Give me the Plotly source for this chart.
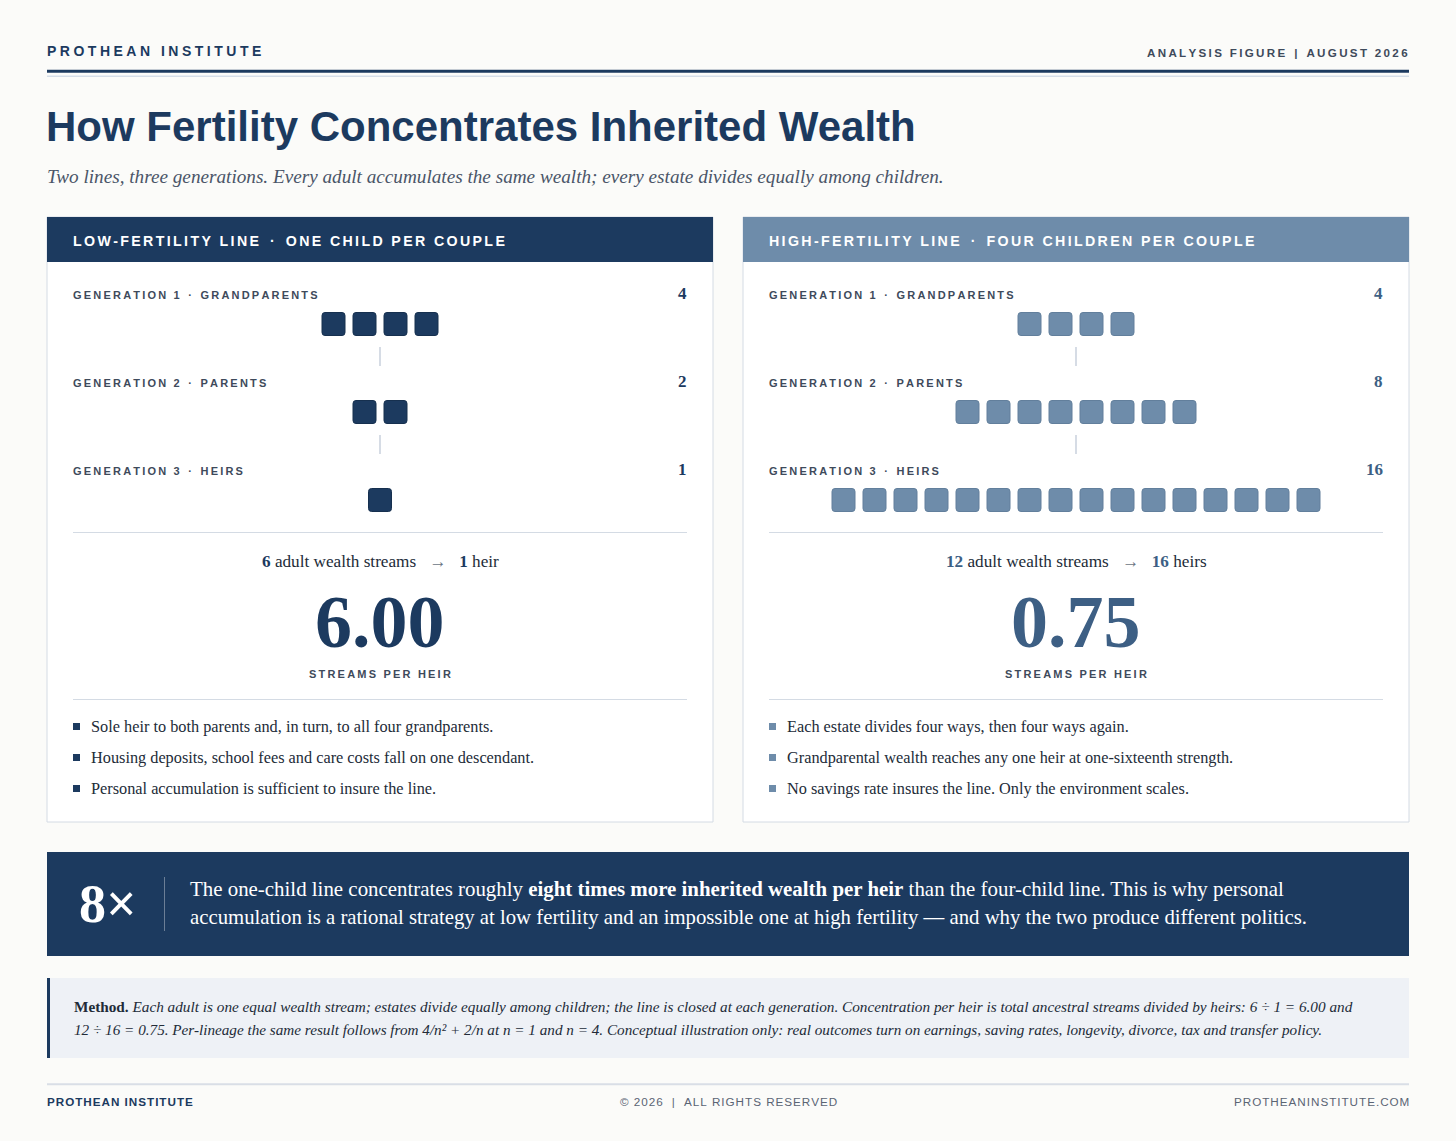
import plotly.graph_objects as go

W, H = 1456, 1141

# ---- data -------------------------------------------------------------
generation_names = ["GRANDPARENTS", "PARENTS", "HEIRS"]
low_counts = [4, 2, 1]
high_counts = [4, 8, 16]
adult_streams = [6, 12]
heirs = [1, 16]
streams_per_heir = ["6.00", "0.75"]
panel_titles = [("LOW-FERTILITY LINE", "ONE CHILD PER COUPLE"),
                ("HIGH-FERTILITY LINE", "FOUR CHILDREN PER COUPLE")]
low_bullets = ["Sole heir to both parents and, in turn, to all four grandparents.",
               "Housing deposits, school fees and care costs fall on one descendant.",
               "Personal accumulation is sufficient to insure the line."]
high_bullets = ["Each estate divides four ways, then four ways again.",
                "Grandparental wealth reaches any one heir at one-sixteenth strength.",
                "No savings rate insures the line. Only the environment scales."]
ratio_label = "8×"

# ---- style ------------------------------------------------------------
NAVY = "#1c3a5f"
STEEL = "#6e8caa"
STEEL_DK = "#3d5f84"
INK = "#222b38"
GREY = "#3e4a5b"
RULE = "#d4dbe4"
BG = "#fbfbf9"

SANS = "Liberation Sans, Arial, sans-serif"
SERIF = "Liberation Serif, Times New Roman, serif"

NB = "\u00a0"
EN = "\u2002"


def track(s, sep="\u2009"):
    # fake letter spacing with thin spaces
    return sep.join(s)


annotations = []
shapes = []


def txt(x, y, s, size, color, family=SANS, anchor="left", weight="normal", style="normal"):
    annotations.append(dict(x=x, y=y, xref="x", yref="y", text=s, showarrow=False,
                            xanchor=anchor, yanchor="middle", borderpad=0, borderwidth=0,
                            font=dict(family=family, size=size, color=color,
                                      weight=weight, style=style)))


def rect(x0, y0, x1, y1, fill, line=None, lw=0):
    shapes.append(dict(type="rect", xref="x", yref="y", x0=x0, y0=y0, x1=x1, y1=y1,
                       fillcolor=fill, line=dict(color=line or fill, width=lw),
                       layer="below"))


def hline(x0, x1, y, color, width=1):
    shapes.append(dict(type="line", xref="x", yref="y", x0=x0, x1=x1, y0=y, y1=y,
                       line=dict(color=color, width=width)))


def vline(x, y0, y1, color, width=1):
    shapes.append(dict(type="line", xref="x", yref="y", x0=x, x1=x, y0=y0, y1=y1,
                       line=dict(color=color, width=width)))


def rrect(xc, yc, half, r, fill, edge):
    x0, x1, y0, y1 = xc - half, xc + half, yc - half, yc + half
    p = (f"M{x0+r},{y0} L{x1-r},{y0} Q{x1},{y0} {x1},{y0+r} L{x1},{y1-r} "
         f"Q{x1},{y1} {x1-r},{y1} L{x0+r},{y1} Q{x0},{y1} {x0},{y1-r} "
         f"L{x0},{y0+r} Q{x0},{y0} {x0+r},{y0} Z")
    shapes.append(dict(type="path", xref="x", yref="y", path=p, fillcolor=fill,
                       line=dict(color=edge, width=1)))


# ---- masthead ---------------------------------------------------------
txt(47, 51, track("PROTHEAN INSTITUTE", "\u2005"), 14, NAVY, weight="bold")
txt(1408, 52, track("ANALYSIS FIGURE") + EN + NB + "|" + NB + EN + track("AUGUST 2026"),
    11.6, GREY, anchor="right", weight="bold")
hline(47, 1409, 71.3, NAVY, 3)
hline(47, 1409, 76.2, "#c3cfe0", 1)

txt(46, 126, "How Fertility Concentrates Inherited Wealth", 42, NAVY, weight="bold")
txt(47, 176, "Two lines, three generations. Every adult accumulates the same wealth; "
             "every estate divides equally among children.", 19.2, "#4a5568",
    family=SERIF, style="italic")

# ---- panels -----------------------------------------------------------
panel_x = [47, 743]
PW = 666
panel_counts = [low_counts, high_counts]
panel_bullets = [low_bullets, high_bullets]
head_fill = [NAVY, STEEL]
sq_fill = [NAVY, STEEL]
sq_edge = ["#16304f", "#627f9c"]
num_col = [NAVY, STEEL_DK]

for p in range(2):
    x0 = panel_x[p]
    cx = x0 + PW / 2
    xl, xr = x0 + 26, x0 + 640
    rect(x0, 217, x0 + PW, 822, "#ffffff", RULE, 1)
    rect(x0, 217, x0 + PW, 262, head_fill[p])
    t1, t2 = panel_titles[p]
    txt(xl, 241, track(t1, "\u2006") + EN + NB + "·" + NB + EN + track(t2, "\u2006"),
        14.2, "#ffffff", weight="bold")

    counts = panel_counts[p]
    for g, name in enumerate(generation_names):
        ly = 295 + 88 * g
        txt(xl, ly, track(f"GENERATION {g + 1}") + NB + EN + "·" + EN + NB + track(name),
            11, GREY, weight="bold")
        txt(xr, ly - 2, str(counts[g]), 17, num_col[p], family=SERIF, anchor="right", weight="bold")
        yc = 324 + 88 * g
        n = counts[g]
        for i in range(n):
            rrect(cx + (i - (n - 1) / 2) * 31, yc, 11.5, 3, sq_fill[p], sq_edge[p])
        if g < 2:
            vline(cx, yc + 23, yc + 42, "#c9d1dc", 1.5)

    hline(xl, xr, 532.5, RULE, 1)
    s_heir = "heir" if heirs[p] == 1 else "heirs"
    stream_txt = (f"<span style='color:{num_col[p]}'><b>{adult_streams[p]}</b></span>"
                  f" adult wealth streams{NB}{EN}<span style='color:#6b7484'>→</span>{EN}{NB}"
                  f"<span style='color:{num_col[p]}'><b>{heirs[p]}</b></span> {s_heir}")
    txt(cx, 561, stream_txt, 17.2, INK, family=SERIF, anchor="center")
    txt(cx, 622, streams_per_heir[p], 74, num_col[p], family=SERIF, anchor="center", weight="bold")
    txt(cx, 673.5, track("STREAMS PER HEIR"), 11, GREY, anchor="center", weight="bold")
    hline(xl, xr, 699.5, RULE, 1)

    for k, b in enumerate(panel_bullets[p]):
        by = 726.5 + 31 * k
        rect(xl, by - 3.5, xl + 7, by + 3.5, sq_fill[p])
        txt(xl + 18, by, b, 16.3, INK, family=SERIF)

# ---- callout ----------------------------------------------------------
rect(47, 852, 1409, 956, NAVY)
txt(79, 904, ratio_label, 54, "#ffffff", family=SERIF, weight="bold")
vline(164.5, 877, 931, "rgba(255,255,255,0.35)", 1)
txt(190, 888.5, "The one-child line concentrates roughly <b>eight times more inherited wealth "
                "per heir</b> than the four-child line. This is why personal",
    20.9, "#ffffff", family=SERIF)
txt(190, 917.5, "accumulation is a rational strategy at low fertility and an impossible one at "
                "high fertility — and why the two produce different politics.",
    20.75, "#ffffff", family=SERIF)

# ---- method note ------------------------------------------------------
rect(47, 978, 1409, 1058, "#eef1f6")
rect(47, 978, 50, 1058, NAVY)
txt(74, 1006, "<b>Method.</b> <i>Each adult is one equal wealth stream; estates divide equally "
              "among children; the line is closed at each generation. Concentration per heir "
              "is total ancestral streams divided by heirs: 6 ÷ 1 = 6.00 and</i>",
    15.25, INK, family=SERIF)
txt(74, 1029.5, "<i>12 ÷ 16 = 0.75. Per-lineage the same result follows from 4/n² + 2/n at "
                "n = 1 and n = 4. Conceptual illustration only: real outcomes turn on earnings, "
                "saving rates, longevity, divorce, tax and transfer policy.</i>",
    15.2, INK, family=SERIF)

# ---- footer -----------------------------------------------------------
hline(47, 1409, 1084.3, "#d9dee6", 2)
txt(47, 1101, track("PROTHEAN INSTITUTE", "\u200a"), 11.7, NAVY, weight="bold")
txt(728, 1101, track("© 2026", "\u200a") + NB + EN + "|" + EN + NB + track("ALL RIGHTS RESERVED", "\u200a"),
    11.7, "#5a6474", anchor="center")
txt(1409, 1101, track("PROTHEANINSTITUTE.COM", "\u200a"), 11.7, "#5a6474", anchor="right")

fig = go.Figure()
fig.update_layout(
    width=W, height=H, autosize=False,
    margin=dict(l=0, r=0, t=0, b=0),
    paper_bgcolor=BG, plot_bgcolor=BG,
    xaxis=dict(range=[0, W], visible=False, fixedrange=True),
    yaxis=dict(range=[H, 0], visible=False, fixedrange=True),
    showlegend=False,
    shapes=shapes,
    annotations=annotations,
)

fig.write_html("out.html", config={"displayModeBar": False},
               post_script="document.body.style.margin='0';")
